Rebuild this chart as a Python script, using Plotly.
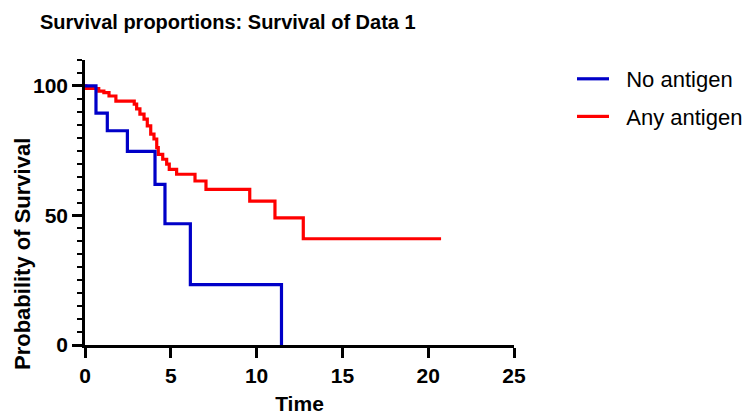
import plotly.graph_objects as go

# Data (Kaplan-Meier step curves)
no_antigen_time = [0, 0.64, 1.30, 2.47, 4.08, 4.66, 6.14, 11.45]
no_antigen_surv = [100, 89.5, 82.7, 74.7, 62.0, 46.8, 23.3, 0]

any_antigen_time = [0, 0.05, 0.80, 1.10, 1.40, 1.80, 2.87, 3.01, 3.20, 3.44, 3.63, 3.83,
                    4.02, 4.18, 4.27, 4.53, 4.76, 4.91, 5.34, 6.41, 7.05, 9.60, 11.07,
                    12.72, 20.75]
any_antigen_surv = [100, 99.0, 98.0, 97.4, 96.1, 94.1, 93.0, 91.1, 89.1, 87.2, 84.6, 81.4,
                    79.5, 76.2, 73.6, 71.7, 69.8, 67.8, 65.9, 63.3, 60.1, 55.5, 49.1,
                    41.0, 41.0]

x_ticks = [0, 5, 10, 15, 20, 25]
y_ticks = [0, 50, 100]

FONT = "Liberation Sans, Arial, sans-serif"
W, H = 742, 407  # page body adds an 8px margin
L, T, PW, PH = 77, 52, 429, 285
NB = "\u00a0\u00a0"

fig = go.Figure()
fig.add_trace(go.Scatter(
    x=any_antigen_time, y=any_antigen_surv, mode="lines", name=NB + "Any antigen",
    line=dict(color="#FF0000", width=3.2, shape="hv"), legendrank=2, legendgroup="b"))
fig.add_trace(go.Scatter(
    x=no_antigen_time, y=no_antigen_surv, mode="lines", name=NB + "No antigen",
    line=dict(color="#0000C8", width=3.2, shape="hv"), legendrank=1, legendgroup="a"))

fig.update_layout(
    width=W, height=H,
    margin=dict(l=L, r=W - L - PW, t=T, b=H - T - PH, autoexpand=False),
    paper_bgcolor="white", plot_bgcolor="white",
    font=dict(family=FONT, color="black"),
    title=dict(text="<b>Survival proportions: Survival of Data 1</b>",
               x=32/W, xanchor="left", y=1 - 14/H, yanchor="middle",
               font=dict(size=20, family=FONT, color="black")),
    showlegend=True,
    legend=dict(x=(564-L)/PW, xanchor="left", y=1 + 2/PH, yanchor="top",
                font=dict(size=22, family=FONT, color="black"), itemwidth=32,
                bgcolor="rgba(0,0,0,0)", tracegroupgap=6, traceorder="grouped"),
    xaxis=dict(range=[0, 25], tickvals=x_ticks, ticktext=[f"<b>{v}</b>" for v in x_ticks],
               showgrid=False, zeroline=False, showline=True, linecolor="black", linewidth=2.6,
               ticks="outside", ticklen=10, tickwidth=2.6, tickcolor="black",
               tickfont=dict(size=21, family=FONT, color="black"), automargin=False,
               title=dict(text="<b>Time</b>", font=dict(size=21, family=FONT, color="black"),
                          standoff=14)),
    yaxis=dict(range=[0, 110], tickvals=y_ticks, ticktext=[f"<b>{v}</b>" for v in y_ticks],
               showgrid=False, zeroline=False, showline=True, linecolor="black", linewidth=2.6,
               ticks="outside", ticklen=10, tickwidth=2.6, tickcolor="black",
               tickfont=dict(size=21, family=FONT, color="black"), automargin=False,
               minor=dict(dtick=5, tick0=0, ticks="outside", ticklen=5, tickwidth=2.2,
                          tickcolor="black", showgrid=False)),
    annotations=[dict(text="<b>Probability of Survival</b>", textangle=-90,
                      xref="paper", yref="paper", x=(14 - L) / PW, y=(T + PH - 246) / PH,
                      xanchor="center", yanchor="middle", showarrow=False,
                      font=dict(size=22, family=FONT, color="black"))],
)

fig.write_html("out.html")
